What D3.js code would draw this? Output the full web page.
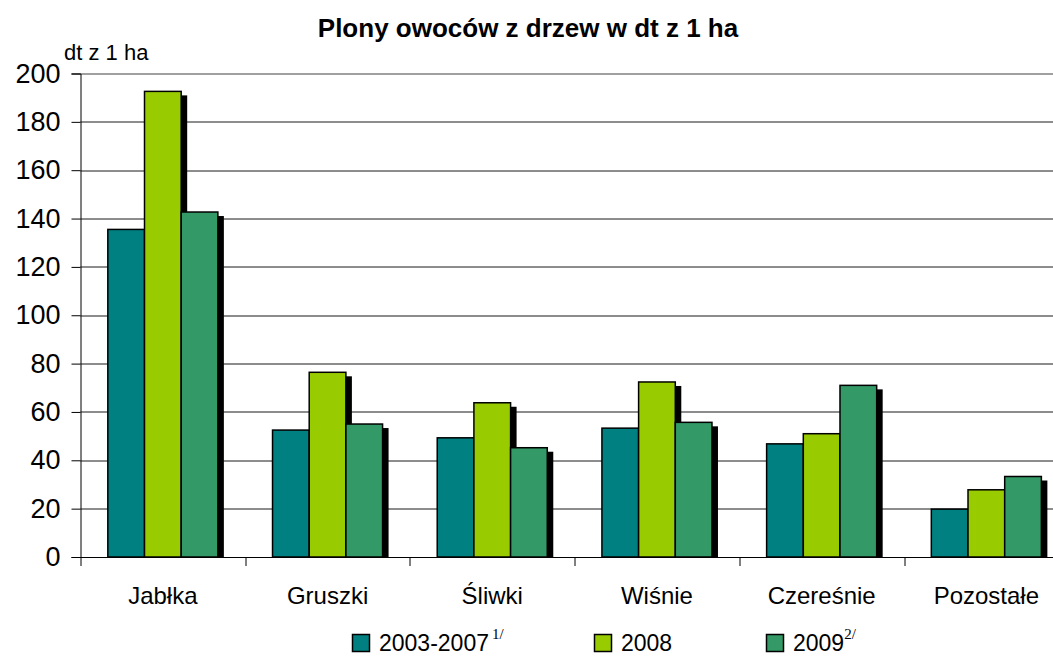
<!DOCTYPE html>
<html>
<head>
<meta charset="utf-8">
<script src="https://cdn.jsdelivr.net/npm/d3@7"></script>
<style>
  body { margin: 0; background: #fff; }
  svg { display: block; font-family: "Liberation Sans", Arial, sans-serif; }
</style>
</head>
<body>
<svg id="chart" width="1053" height="656"></svg>
<script>
// ------------------------------------------
//  Data
// ------------------------------------------
const categories = ['Jabłka', 'Gruszki', 'Śliwki', 'Wiśnie', 'Czereśnie', 'Pozostałe']
const seriesNames = ['2003-2007', '2008', '2009']
const seriesNotes = ['1/', '', '2/']
const seriesColors = ['#008080', '#99cc00', '#339966']
const values2003_2007 = [135.5, 52.5, 49.3, 53.3, 46.8, 19.8]
const values2008 = [192.6, 76.4, 63.8, 72.4, 51.0, 27.8]
const values2009 = [142.7, 55.0, 45.2, 55.7, 71.0, 33.3]
const yTicks = [0, 20, 40, 60, 80, 100, 120, 140, 160, 180, 200]

const series = [values2003_2007, values2008, values2009]

// ------------------------------------------
//  Layout
// ------------------------------------------
const svg = d3.select('#chart')
const margin = { top: 73.5, left: 80.5 }
const plotW = 6 * 164.7
const plotH = 557 - 73.5

const x0 = d3.scaleBand().domain(categories).range([0, plotW]).padding(0)
const x1 = d3.scaleBand().domain(d3.range(3)).range([0, x0.bandwidth()])
  .paddingInner(0).paddingOuter(0.745)
const y = d3.scaleLinear().domain([0, 200]).range([plotH, 0])

const g = svg.append('g').attr('transform', `translate(${margin.left},${margin.top})`)

// title
svg.append('text')
  .attr('x', 528).attr('y', 37)
  .attr('text-anchor', 'middle')
  .attr('font-size', 26).attr('font-weight', 'bold')
  .text('Plony owoców z drzew w dt z 1 ha')

svg.append('text')
  .attr('x', 64).attr('y', 60)
  .attr('font-size', 22)
  .text('dt z 1 ha')

// gridlines
g.append('g')
  .selectAll('line')
  .data(yTicks.filter(d => d > 0))
  .enter().append('line')
  .attr('x1', 0).attr('x2', plotW)
  .attr('y1', d => Math.round(y(d)) + 0.5).attr('y2', d => Math.round(y(d)) + 0.5)
  .attr('stroke', d => d === 200 ? '#808080' : '#1a1a1a')
  .attr('stroke-width', d => d === 200 ? 1.5 : 1)

// bars with shadow
const flat = []
categories.forEach((c, i) => series.forEach((s, j) => flat.push({ c, j, v: s[i] })))

g.append('g').selectAll('rect')
  .data(flat)
  .enter().append('rect')
  .attr('x', d => x0(d.c) + x1(d.j) + 6)
  .attr('y', d => y(d.v) + 4)
  .attr('width', x1.bandwidth())
  .attr('height', d => plotH - y(d.v) - 4)
  .attr('fill', '#000')

g.append('g').selectAll('rect')
  .data(flat)
  .enter().append('rect')
  .attr('x', d => x0(d.c) + x1(d.j))
  .attr('y', d => y(d.v))
  .attr('width', x1.bandwidth())
  .attr('height', d => plotH - y(d.v))
  .attr('fill', d => seriesColors[d.j])
  .attr('stroke', '#000')
  .attr('stroke-width', 1.5)

// y axis
const yAxis = g.append('g')
  .call(d3.axisLeft(y).tickValues(yTicks).tickSize(9).tickPadding(11))
yAxis.selectAll('text').attr('font-size', 27).attr('fill', '#000')
  .attr('font-family', '"Liberation Sans", Arial, sans-serif')
yAxis.selectAll('line').attr('stroke', '#000')
yAxis.select('.domain').attr('stroke', '#000')

// x axis
g.append('line')
  .attr('x1', 0).attr('x2', plotW)
  .attr('y1', plotH + 0.5).attr('y2', plotH + 0.5)
  .attr('stroke', '#000')

g.append('g').selectAll('line')
  .data(d3.range(categories.length + 1))
  .enter().append('line')
  .attr('x1', i => Math.round(i * x0.step()) + 0.5)
  .attr('x2', i => Math.round(i * x0.step()) + 0.5)
  .attr('y1', plotH).attr('y2', plotH + 9)
  .attr('stroke', '#000')

g.append('g').selectAll('text')
  .data(categories)
  .enter().append('text')
  .attr('x', d => x0(d) + x0.bandwidth() / 2)
  .attr('y', plotH + 47)
  .attr('text-anchor', 'middle')
  .attr('font-size', 24)
  .text(d => d)

// legend
const legendX = [352, 594, 766]
const legend = svg.append('g').selectAll('g')
  .data(seriesNames)
  .enter().append('g')
  .attr('transform', (d, i) => `translate(${legendX[i]},0)`)

legend.append('rect')
  .attr('x', 0.5).attr('y', 634.5)
  .attr('width', 17).attr('height', 17)
  .attr('fill', (d, i) => seriesColors[i])
  .attr('stroke', '#000').attr('stroke-width', 1.5)

const lt = legend.append('text')
  .attr('x', 27).attr('y', 651)
  .attr('font-size', 23)
lt.append('tspan').text(d => d)
lt.append('tspan')
  .attr('font-family', '"Liberation Serif", "Times New Roman", serif')
  .attr('font-size', 15)
  .attr('dx', (d, i) => i === 2 ? 0 : 3)
  .attr('dy', -12)
  .text((d, i) => seriesNotes[i])
</script>
</body>
</html>
